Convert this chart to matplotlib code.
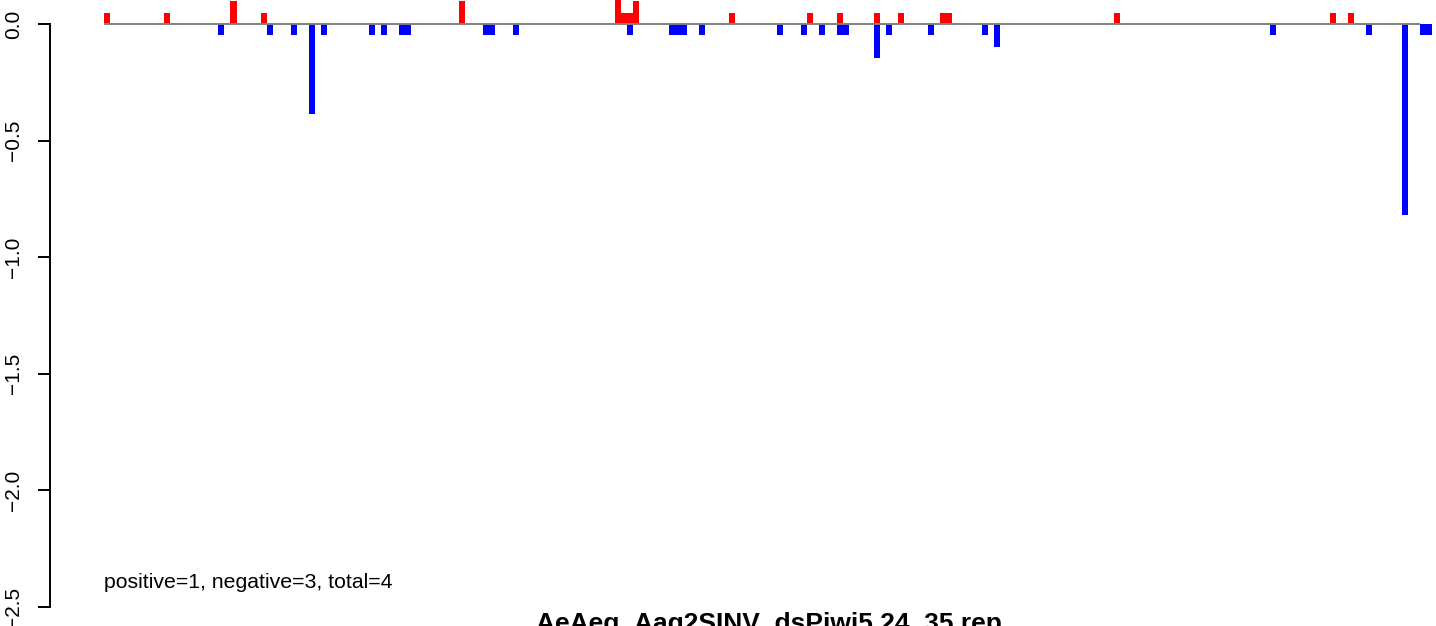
import matplotlib
matplotlib.use("Agg")
import matplotlib.pyplot as plt

plt.rcParams['font.family'] = ['Liberation Sans', 'DejaVu Sans']

# bar positions (index along sequence) and heights
pos_idx = [0, 10, 21, 26, 59, 85, 86, 87, 88, 104, 117, 122, 128, 132, 139, 140, 168, 204, 207]
pos_val = [0.049, 0.049, 0.097, 0.049, 0.097, 0.15, 0.049, 0.049, 0.097, 0.049, 0.049, 0.049,
           0.049, 0.049, 0.049, 0.049, 0.049, 0.049, 0.049]
neg_idx = [19, 27, 31, 34, 36, 44, 46, 49, 50, 63, 64, 68, 87, 94, 95, 96, 99, 112, 116, 119,
           122, 123, 128, 130, 137, 146, 148, 194, 210, 216, 219, 220]
neg_val = [-0.049, -0.049, -0.049, -0.388, -0.049, -0.049, -0.049, -0.049, -0.049, -0.049,
           -0.049, -0.049, -0.049, -0.049, -0.049, -0.049, -0.049, -0.049, -0.049, -0.049,
           -0.049, -0.049, -0.146, -0.049, -0.049, -0.049, -0.097, -0.049, -0.049, -0.82,
           -0.049, -0.049]
y_ticks = [0.0, -0.5, -1.0, -1.5, -2.0, -2.5]
summary_text = "positive=1, negative=3, total=4"
title_text = "AeAeg_Aag2SINV_dsPiwi5 24_35 rep"

W, H = 1436, 626
fig = plt.figure(figsize=(W / 100, H / 100), dpi=100)
ax = fig.add_axes([50 / W, 0, (W - 50) / W, 1])

ax.bar(pos_idx, pos_val, width=1, align='edge', color='#ff0000', linewidth=0)
ax.bar(neg_idx, neg_val, width=1, align='edge', color='#0000ff', linewidth=0)
ax.hlines(0, 0, 219, color='#808080', linewidth=1.4, zorder=3)

ax.set_xlim(-9.035, 221.6)
ax.set_ylim(-2.5815, 0.1029)

for s in ['top', 'right', 'bottom']:
    ax.spines[s].set_visible(False)
ax.spines['left'].set_bounds(-2.5, 0)
ax.spines['left'].set_linewidth(1.4)
ax.set_xticks([])
ax.set_yticks(y_ticks)
ax.set_yticklabels([f"{v:.1f}".replace('-', '\u2212') for v in y_ticks],
                   rotation=90, va='center', fontsize=15)
ax.tick_params(axis='y', direction='out', length=8.6, width=1.4, pad=11)

fig.text(104 / W, 1 - 588 / H, summary_text, fontsize=15.3, ha='left', va='baseline')
fig.text(769 / W, 1 - 631 / H, title_text, fontsize=19, fontweight='bold',
         ha='center', va='baseline')

fig.savefig('out.png', dpi=100)
